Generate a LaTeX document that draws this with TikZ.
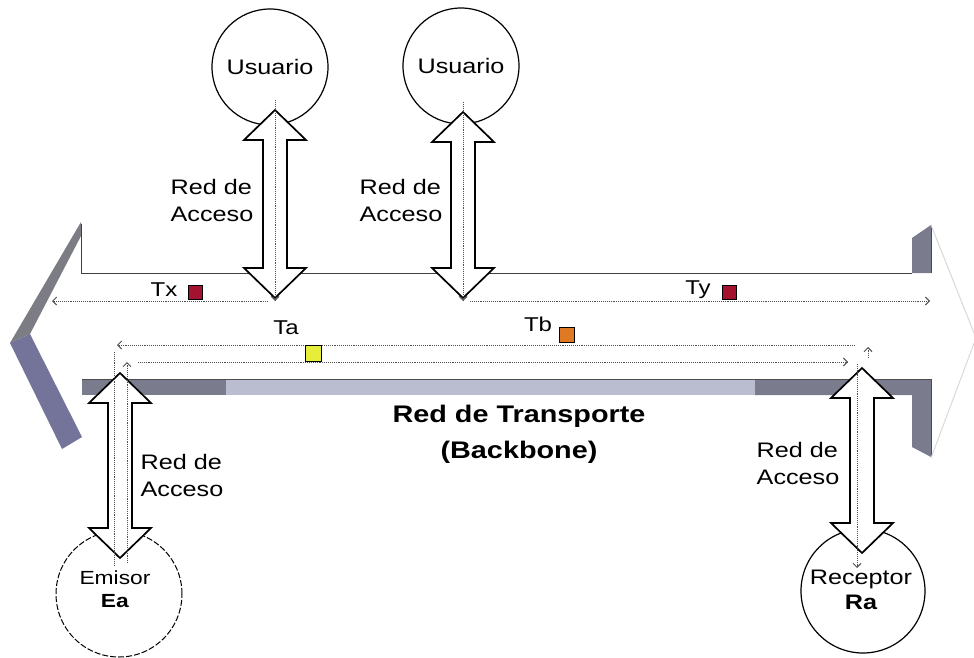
\documentclass[tikz,border=0pt]{standalone}
\usepackage{fontspec}
\setmainfont{Liberation Sans}[FakeStretch=1.2]
\usetikzlibrary{arrows.meta,calc}
\definecolor{bandDark}{HTML}{7B7B8E}
\definecolor{bandLight}{HTML}{B9BDCF}
\definecolor{stripTop}{HTML}{7C7C84}
\definecolor{stripLow}{HTML}{74749A}
\definecolor{txRed}{HTML}{A3122E}
\definecolor{taYellow}{HTML}{E6EE3A}
\definecolor{tbOrange}{HTML}{E07A22}
\definecolor{dotGray}{HTML}{505050}
\newcommand\dblarr[2]{%
  \draw[blockarrow] (#1) -- ++(31,30) -- ++(-19,0) -- ($(#2)+(12,-30)$) -- ++(19,0)
    -- (#2) -- ++(-31,-30) -- ++(19,0) -- ($(#1)+(-12,30)$) -- ++(-19,0) -- cycle;}
\begin{document}
\begin{tikzpicture}[x=1pt,y=-1pt,
  >={Straight Barb[length=4pt,width=8pt]},
  lbl/.style={font=\fontsize{21}{27}\selectfont, inner sep=0pt, align=left},
  tlbl/.style={font=\fontsize{20}{24}\selectfont, inner sep=0pt},
  userc/.style={circle, draw, line width=1.2pt, minimum size=116pt, inner sep=0pt, font=\fontsize{21}{24}\selectfont},
  blockarrow/.style={draw=black, fill=white, line width=1.7pt, line join=miter},
  dotline/.style={draw=dotGray, densely dotted, line width=0.9pt},
  sq/.style={draw=black, line width=0.8pt, minimum size=14pt, inner sep=0pt},
  edgeline/.style={draw=black!75, line width=0.9pt}]
\useasboundingbox (0,0) rectangle (974,658);
\fill[white] (0,0) rectangle (974,658);

% big double arrow (backbone)
\fill[stripTop] (81,222) -- (10,343) -- (30,334) -- (82,234) -- cycle;
\fill[stripLow] (10,343) -- (62,449) -- (82,437) -- (30,334) -- cycle;
\draw[edgeline] (81,224) -- (81,273) -- (912,273);
\fill[bandDark] (82,379) rectangle (226,395);
\fill[bandLight] (226,379) rectangle (755,395);
\fill[bandDark] (755,379) -- (931,379) -- (931,457) -- (912,447) -- (912,395) -- (755,395) -- cycle;
\draw[black!70, line width=0.8pt] (82,379) -- (931,379) -- (931,457);
\fill[bandDark] (912,238) -- (931,225) -- (931,273) -- (912,273) -- cycle;
\draw[black!70, line width=0.8pt] (931,225) -- (931,273);
\draw[gray!30, line width=1pt] (931,225) -- (976,338) -- (931,458);

% end circles
\node[userc] (u1) at (270,67) {Usuario};
\node[userc] (u2) at (461,66) {Usuario};
\node[circle, draw, line width=1pt, dash pattern=on 6pt off 2pt, minimum size=126pt, inner sep=0pt] (em) at (119,594) {};
\node[font=\fontsize{19}{23}\selectfont, align=center, inner sep=0pt] (emt) at (115,589) {Emisor\\\textbf{Ea}};
\node[circle, draw, line width=1.2pt, minimum size=124pt, inner sep=0pt] (re) at (863,591) {};
\node[font=\fontsize{21}{25}\selectfont, align=center, inner sep=0pt] (ret) at (861,590) {Receptor\\\textbf{Ra}};

% access block arrows
\coordinate (a1t) at (275,110); \coordinate (a1b) at (275,298);
\coordinate (a2t) at (463,112); \coordinate (a2b) at (463,298);
\coordinate (a3t) at (120,373); \coordinate (a3b) at (120,558);
\coordinate (a4t) at (862,368); \coordinate (a4b) at (862,553);
\dblarr{a1t}{a1b}
\dblarr{a2t}{a2b}
\dblarr{a3t}{a3b}
\dblarr{a4t}{a4b}

% dotted delay paths
\draw[dotline,->] (275,100) -- (275,301);
\draw[dotline,->] (268,301) -- (52,301);
\draw[dotline,->] (463,102) -- (463,301);
\draw[dotline,->] (470,301) -- (930,301);
\draw[dotline,->] (855,345) -- (117,345);
\draw[dotline] (114,352) -- (114,565);
\draw[dotline,->] (127,563) -- (127,362);
\draw[dotline,->] (138,362) -- (848,362);
\draw[dotline,->] (857,364) -- (857,568);
\draw[dotline,->] (868,358) -- (868,347);

% delay markers
\node[sq, fill=txRed] (sx) at (195,292) {};
\node[sq, fill=txRed] (sy) at (729,292) {};
\node[sq, fill=taYellow, minimum size=16pt] (sa) at (313,353) {};
\node[sq, fill=tbOrange, minimum size=15pt] (sb) at (567,335) {};
\node[tlbl] (tx) at (164,290) {Tx};
\node[tlbl] (ty) at (698,290) {Ty};
\node[tlbl] (ta) at (286,328) {Ta};
\node[tlbl] (tb) at (538,324) {Tb};

% labels
\node[lbl] (l1) at (212,200) {Red de\\Acceso};
\node[lbl] (l2) at (401,200) {Red de\\Acceso};
\node[lbl] (l3) at (182,475) {Red de\\Acceso};
\node[lbl] (l4) at (798,463) {Red de\\Acceso};
\node[font=\bfseries\fontsize{24}{36}\selectfont, align=center, inner sep=0pt] (bb) at (519,434) {Red de Transporte\\(Backbone)};
\end{tikzpicture}
\end{document}
